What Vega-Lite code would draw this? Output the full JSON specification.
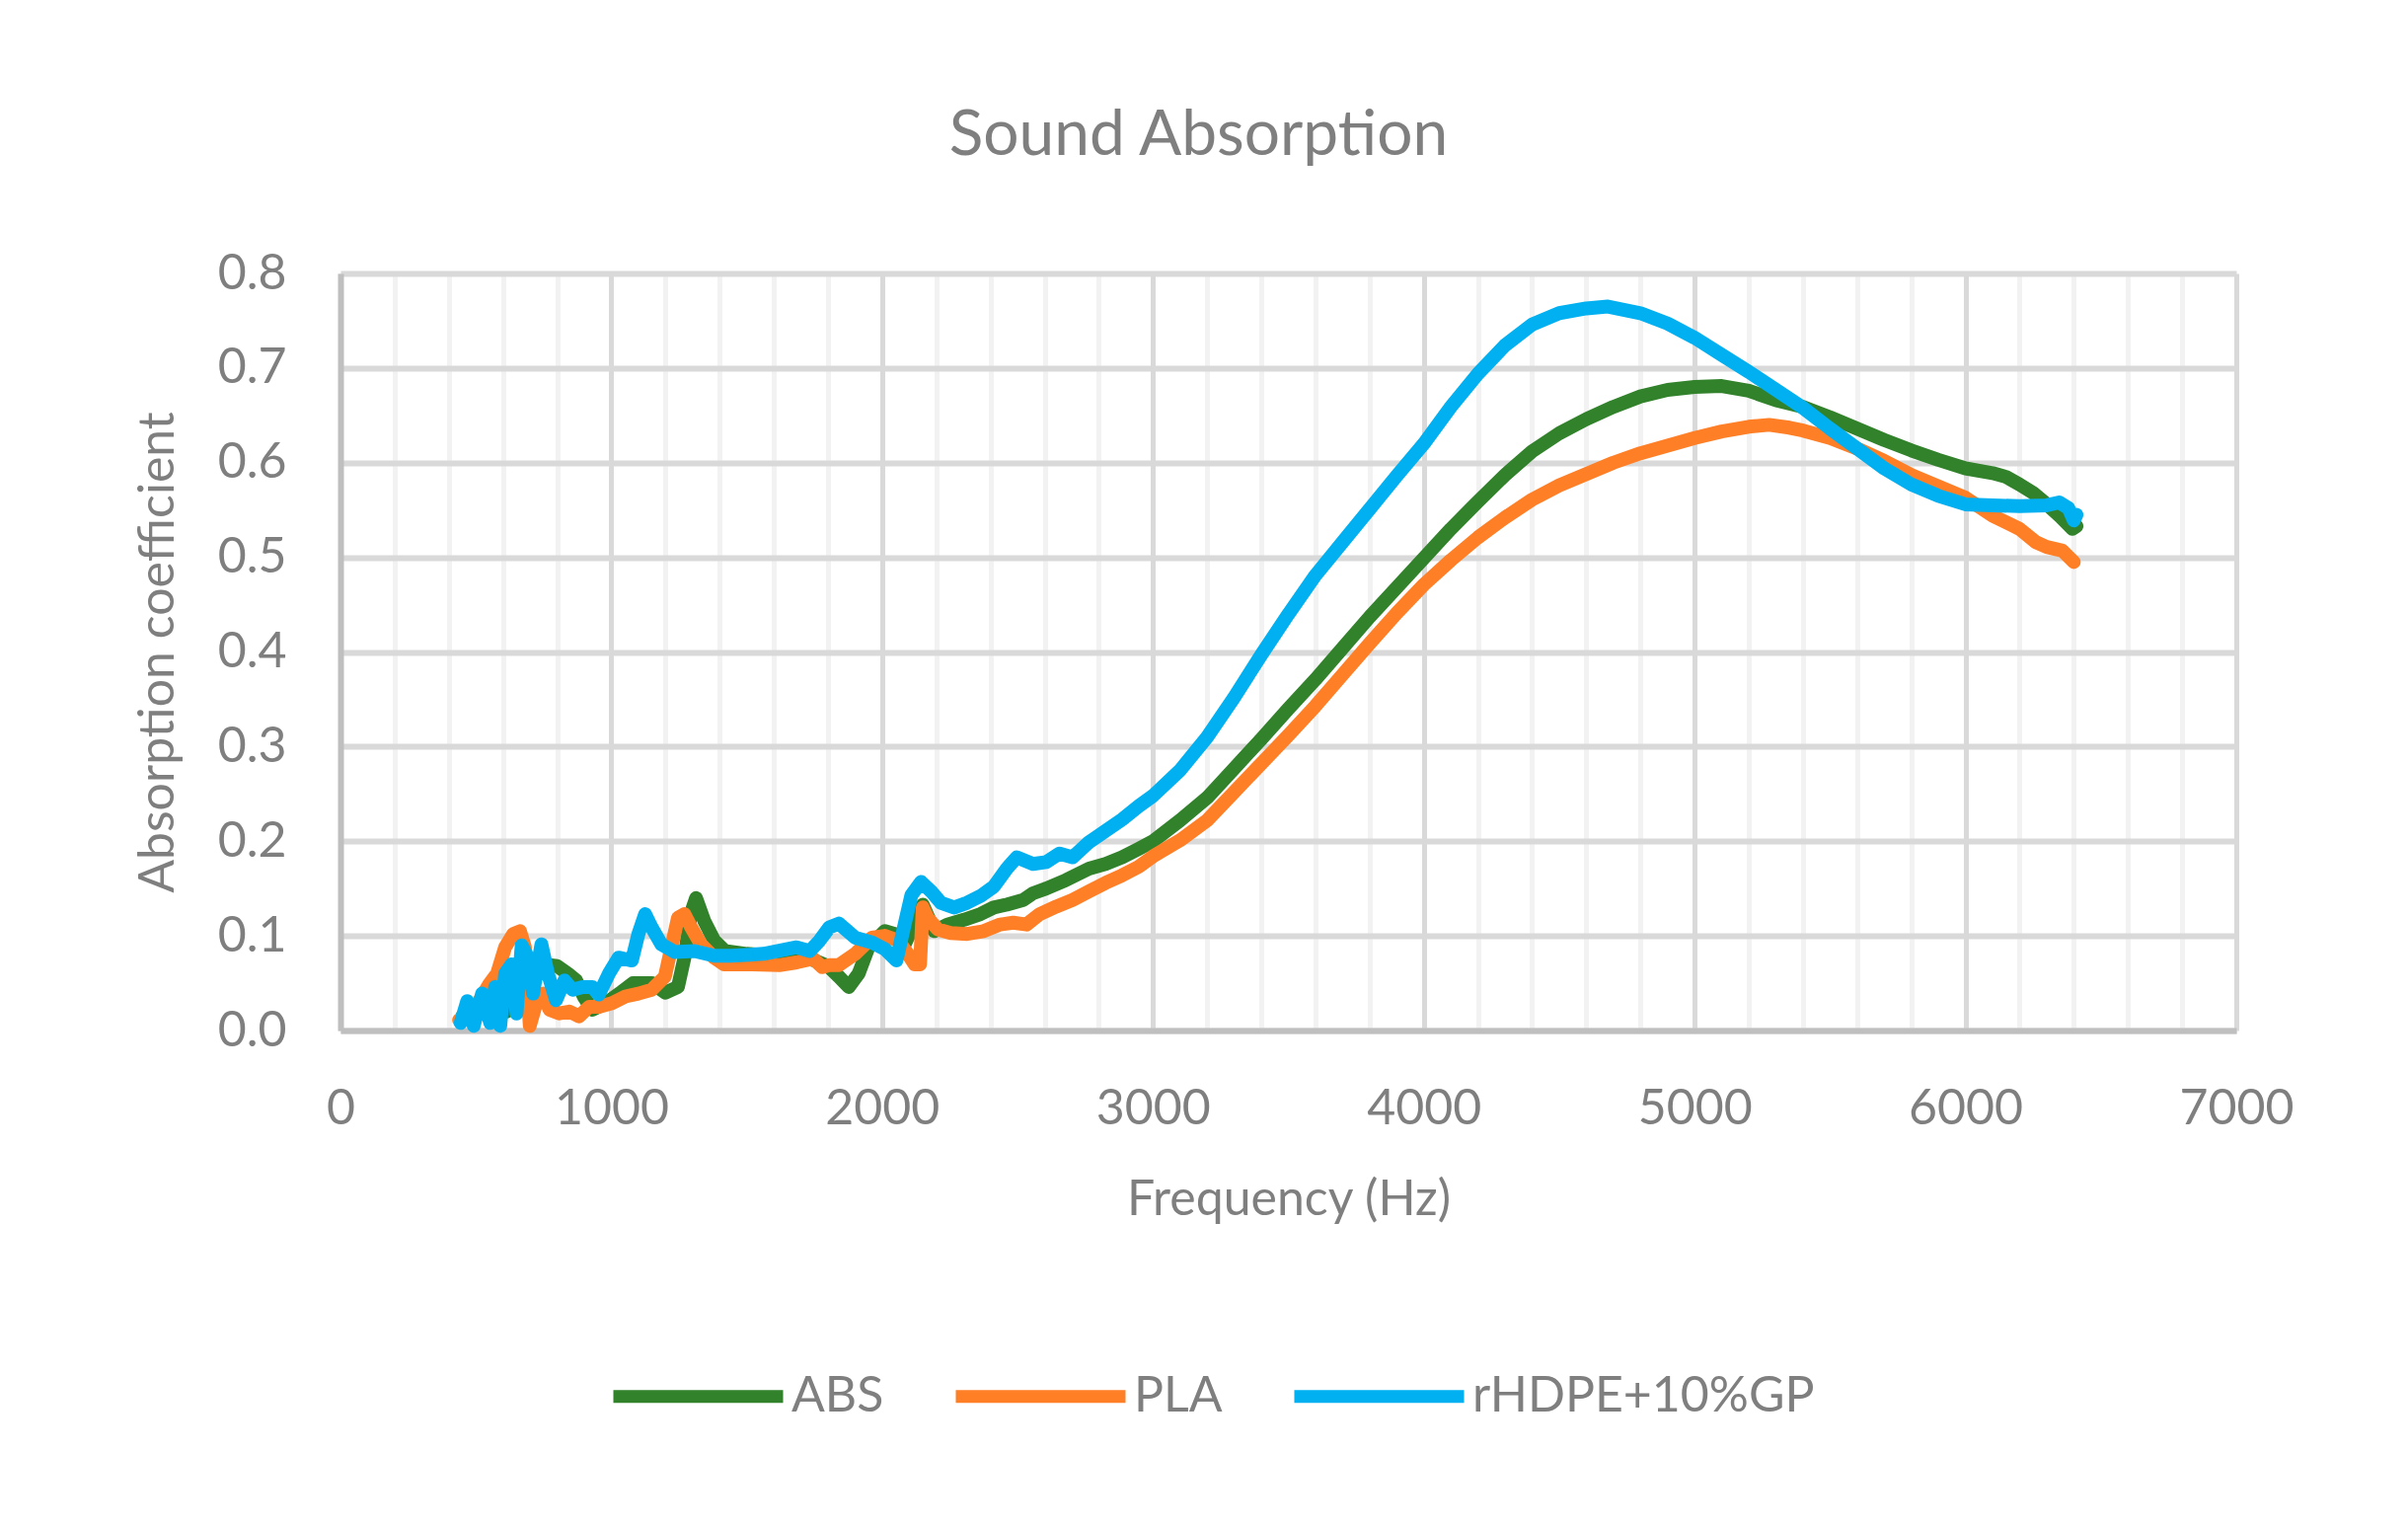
{
  "$schema": "https://vega.github.io/schema/vega-lite/v6.json",
  "width": 1921,
  "height": 767,
  "autosize": {"type": "none"},
  "padding": {"left": 345, "top": 277, "right": 174, "bottom": 504},
  "background": "white",
  "title": {
    "text": "Sound Absorption",
    "font": "Lato",
    "fontSize": 64,
    "fontWeight": "normal",
    "color": "#7F7F7F",
    "anchor": "middle",
    "baseline": "alphabetic",
    "offset": 31,
    "dx": -91
  },
  "config": {
    "view": {"stroke": null},
    "axis": {
      "labelFont": "Lato",
      "labelFontSize": 50,
      "labelColor": "#7F7F7F",
      "titleFont": "Lato",
      "titleFontSize": 50,
      "titleFontWeight": "normal",
      "titleColor": "#7F7F7F",
      "domainColor": "#BFBFBF",
      "domainWidth": 6,
      "ticks": false,
      "tickSize": 0
    },
    "legend": {
      "labelFont": "Lato",
      "labelFontSize": 50,
      "labelColor": "#7F7F7F",
      "labelLimit": 600
    }
  },
  "data": {
    "values": [
      {"series": "ABS", "f": 450, "a": 0.015},
      {"series": "ABS", "f": 480, "a": 0.02},
      {"series": "ABS", "f": 520, "a": 0.025},
      {"series": "ABS", "f": 560, "a": 0.03},
      {"series": "ABS", "f": 600, "a": 0.035},
      {"series": "ABS", "f": 614, "a": 0.02},
      {"series": "ABS", "f": 650, "a": 0.05},
      {"series": "ABS", "f": 700, "a": 0.065},
      {"series": "ABS", "f": 750, "a": 0.07},
      {"series": "ABS", "f": 800, "a": 0.068},
      {"series": "ABS", "f": 840, "a": 0.06},
      {"series": "ABS", "f": 870, "a": 0.053},
      {"series": "ABS", "f": 900, "a": 0.035},
      {"series": "ABS", "f": 930, "a": 0.022},
      {"series": "ABS", "f": 980, "a": 0.029},
      {"series": "ABS", "f": 1030, "a": 0.039},
      {"series": "ABS", "f": 1080, "a": 0.05},
      {"series": "ABS", "f": 1150, "a": 0.05},
      {"series": "ABS", "f": 1200, "a": 0.04},
      {"series": "ABS", "f": 1246, "a": 0.046},
      {"series": "ABS", "f": 1270, "a": 0.077},
      {"series": "ABS", "f": 1295, "a": 0.125},
      {"series": "ABS", "f": 1313, "a": 0.14},
      {"series": "ABS", "f": 1343, "a": 0.116},
      {"series": "ABS", "f": 1380, "a": 0.095},
      {"series": "ABS", "f": 1420, "a": 0.084},
      {"series": "ABS", "f": 1500, "a": 0.081},
      {"series": "ABS", "f": 1620, "a": 0.079},
      {"series": "ABS", "f": 1700, "a": 0.078},
      {"series": "ABS", "f": 1750, "a": 0.074},
      {"series": "ABS", "f": 1800, "a": 0.068},
      {"series": "ABS", "f": 1840, "a": 0.057},
      {"series": "ABS", "f": 1877, "a": 0.046},
      {"series": "ABS", "f": 1913, "a": 0.06},
      {"series": "ABS", "f": 1950, "a": 0.088},
      {"series": "ABS", "f": 2010, "a": 0.105},
      {"series": "ABS", "f": 2047, "a": 0.102},
      {"series": "ABS", "f": 2083, "a": 0.091},
      {"series": "ABS", "f": 2120, "a": 0.114},
      {"series": "ABS", "f": 2150, "a": 0.133},
      {"series": "ABS", "f": 2193, "a": 0.105},
      {"series": "ABS", "f": 2241, "a": 0.112},
      {"series": "ABS", "f": 2302, "a": 0.117},
      {"series": "ABS", "f": 2363, "a": 0.123},
      {"series": "ABS", "f": 2412, "a": 0.13},
      {"series": "ABS", "f": 2460, "a": 0.133},
      {"series": "ABS", "f": 2521, "a": 0.138},
      {"series": "ABS", "f": 2557, "a": 0.145},
      {"series": "ABS", "f": 2606, "a": 0.15},
      {"series": "ABS", "f": 2679, "a": 0.159},
      {"series": "ABS", "f": 2764, "a": 0.171},
      {"series": "ABS", "f": 2825, "a": 0.176},
      {"series": "ABS", "f": 2886, "a": 0.183},
      {"series": "ABS", "f": 2947, "a": 0.192},
      {"series": "ABS", "f": 3000, "a": 0.2},
      {"series": "ABS", "f": 3100, "a": 0.222},
      {"series": "ABS", "f": 3200, "a": 0.246},
      {"series": "ABS", "f": 3300, "a": 0.277},
      {"series": "ABS", "f": 3400, "a": 0.308},
      {"series": "ABS", "f": 3500, "a": 0.34},
      {"series": "ABS", "f": 3600, "a": 0.371},
      {"series": "ABS", "f": 3700, "a": 0.404},
      {"series": "ABS", "f": 3800, "a": 0.437},
      {"series": "ABS", "f": 3900, "a": 0.468},
      {"series": "ABS", "f": 4000, "a": 0.499},
      {"series": "ABS", "f": 4100, "a": 0.53},
      {"series": "ABS", "f": 4200, "a": 0.559},
      {"series": "ABS", "f": 4300, "a": 0.587},
      {"series": "ABS", "f": 4400, "a": 0.612},
      {"series": "ABS", "f": 4500, "a": 0.631},
      {"series": "ABS", "f": 4600, "a": 0.646},
      {"series": "ABS", "f": 4700, "a": 0.659},
      {"series": "ABS", "f": 4800, "a": 0.67},
      {"series": "ABS", "f": 4900, "a": 0.677},
      {"series": "ABS", "f": 5000, "a": 0.68},
      {"series": "ABS", "f": 5100, "a": 0.681},
      {"series": "ABS", "f": 5200, "a": 0.676},
      {"series": "ABS", "f": 5300, "a": 0.666},
      {"series": "ABS", "f": 5400, "a": 0.659},
      {"series": "ABS", "f": 5500, "a": 0.648},
      {"series": "ABS", "f": 5600, "a": 0.636},
      {"series": "ABS", "f": 5700, "a": 0.624},
      {"series": "ABS", "f": 5800, "a": 0.613},
      {"series": "ABS", "f": 5900, "a": 0.603},
      {"series": "ABS", "f": 6000, "a": 0.594},
      {"series": "ABS", "f": 6100, "a": 0.589},
      {"series": "ABS", "f": 6150, "a": 0.585},
      {"series": "ABS", "f": 6200, "a": 0.577},
      {"series": "ABS", "f": 6250, "a": 0.568},
      {"series": "ABS", "f": 6300, "a": 0.556},
      {"series": "ABS", "f": 6350, "a": 0.543},
      {"series": "ABS", "f": 6395, "a": 0.53},
      {"series": "ABS", "f": 6410, "a": 0.533},
      {"series": "PLA", "f": 438, "a": 0.011},
      {"series": "PLA", "f": 480, "a": 0.015},
      {"series": "PLA", "f": 510, "a": 0.03},
      {"series": "PLA", "f": 547, "a": 0.048},
      {"series": "PLA", "f": 578, "a": 0.06},
      {"series": "PLA", "f": 608, "a": 0.088},
      {"series": "PLA", "f": 638, "a": 0.102},
      {"series": "PLA", "f": 663, "a": 0.105},
      {"series": "PLA", "f": 681, "a": 0.088},
      {"series": "PLA", "f": 699, "a": 0.005},
      {"series": "PLA", "f": 723, "a": 0.029},
      {"series": "PLA", "f": 748, "a": 0.039},
      {"series": "PLA", "f": 772, "a": 0.022},
      {"series": "PLA", "f": 808, "a": 0.018},
      {"series": "PLA", "f": 845, "a": 0.02},
      {"series": "PLA", "f": 881, "a": 0.015},
      {"series": "PLA", "f": 918, "a": 0.025},
      {"series": "PLA", "f": 954, "a": 0.025},
      {"series": "PLA", "f": 1003, "a": 0.029},
      {"series": "PLA", "f": 1052, "a": 0.036},
      {"series": "PLA", "f": 1100, "a": 0.039},
      {"series": "PLA", "f": 1149, "a": 0.043},
      {"series": "PLA", "f": 1198, "a": 0.057},
      {"series": "PLA", "f": 1222, "a": 0.088},
      {"series": "PLA", "f": 1246, "a": 0.119},
      {"series": "PLA", "f": 1270, "a": 0.123},
      {"series": "PLA", "f": 1295, "a": 0.109},
      {"series": "PLA", "f": 1331, "a": 0.091},
      {"series": "PLA", "f": 1380, "a": 0.077},
      {"series": "PLA", "f": 1416, "a": 0.07},
      {"series": "PLA", "f": 1500, "a": 0.07},
      {"series": "PLA", "f": 1620, "a": 0.069},
      {"series": "PLA", "f": 1684, "a": 0.072},
      {"series": "PLA", "f": 1745, "a": 0.076},
      {"series": "PLA", "f": 1779, "a": 0.067},
      {"series": "PLA", "f": 1805, "a": 0.069},
      {"series": "PLA", "f": 1840, "a": 0.069},
      {"series": "PLA", "f": 1901, "a": 0.081},
      {"series": "PLA", "f": 1962, "a": 0.098},
      {"series": "PLA", "f": 2010, "a": 0.1},
      {"series": "PLA", "f": 2059, "a": 0.095},
      {"series": "PLA", "f": 2095, "a": 0.081},
      {"series": "PLA", "f": 2120, "a": 0.07},
      {"series": "PLA", "f": 2140, "a": 0.07},
      {"series": "PLA", "f": 2150, "a": 0.13},
      {"series": "PLA", "f": 2168, "a": 0.119},
      {"series": "PLA", "f": 2205, "a": 0.107},
      {"series": "PLA", "f": 2253, "a": 0.103},
      {"series": "PLA", "f": 2314, "a": 0.102},
      {"series": "PLA", "f": 2375, "a": 0.105},
      {"series": "PLA", "f": 2436, "a": 0.112},
      {"series": "PLA", "f": 2484, "a": 0.114},
      {"series": "PLA", "f": 2533, "a": 0.112},
      {"series": "PLA", "f": 2582, "a": 0.123},
      {"series": "PLA", "f": 2643, "a": 0.131},
      {"series": "PLA", "f": 2703, "a": 0.138},
      {"series": "PLA", "f": 2764, "a": 0.147},
      {"series": "PLA", "f": 2825, "a": 0.156},
      {"series": "PLA", "f": 2886, "a": 0.164},
      {"series": "PLA", "f": 2947, "a": 0.173},
      {"series": "PLA", "f": 3000, "a": 0.184},
      {"series": "PLA", "f": 3100, "a": 0.201},
      {"series": "PLA", "f": 3200, "a": 0.222},
      {"series": "PLA", "f": 3300, "a": 0.252},
      {"series": "PLA", "f": 3400, "a": 0.282},
      {"series": "PLA", "f": 3500, "a": 0.312},
      {"series": "PLA", "f": 3600, "a": 0.343},
      {"series": "PLA", "f": 3700, "a": 0.376},
      {"series": "PLA", "f": 3800, "a": 0.409},
      {"series": "PLA", "f": 3900, "a": 0.441},
      {"series": "PLA", "f": 4000, "a": 0.471},
      {"series": "PLA", "f": 4100, "a": 0.497},
      {"series": "PLA", "f": 4200, "a": 0.521},
      {"series": "PLA", "f": 4300, "a": 0.542},
      {"series": "PLA", "f": 4400, "a": 0.561},
      {"series": "PLA", "f": 4500, "a": 0.576},
      {"series": "PLA", "f": 4600, "a": 0.588},
      {"series": "PLA", "f": 4700, "a": 0.6},
      {"series": "PLA", "f": 4800, "a": 0.61},
      {"series": "PLA", "f": 4900, "a": 0.618},
      {"series": "PLA", "f": 5000, "a": 0.626},
      {"series": "PLA", "f": 5100, "a": 0.633},
      {"series": "PLA", "f": 5200, "a": 0.638},
      {"series": "PLA", "f": 5275, "a": 0.64},
      {"series": "PLA", "f": 5350, "a": 0.637},
      {"series": "PLA", "f": 5400, "a": 0.634},
      {"series": "PLA", "f": 5500, "a": 0.626},
      {"series": "PLA", "f": 5600, "a": 0.615},
      {"series": "PLA", "f": 5700, "a": 0.602},
      {"series": "PLA", "f": 5800, "a": 0.587},
      {"series": "PLA", "f": 5900, "a": 0.575},
      {"series": "PLA", "f": 6000, "a": 0.563},
      {"series": "PLA", "f": 6100, "a": 0.544},
      {"series": "PLA", "f": 6200, "a": 0.53},
      {"series": "PLA", "f": 6260, "a": 0.516},
      {"series": "PLA", "f": 6300, "a": 0.511},
      {"series": "PLA", "f": 6358, "a": 0.507},
      {"series": "PLA", "f": 6400, "a": 0.495},
      {"series": "rHDPE+10%GP", "f": 444, "a": 0.008},
      {"series": "rHDPE+10%GP", "f": 468, "a": 0.031},
      {"series": "rHDPE+10%GP", "f": 492, "a": 0.005},
      {"series": "rHDPE+10%GP", "f": 523, "a": 0.039},
      {"series": "rHDPE+10%GP", "f": 553, "a": 0.008},
      {"series": "rHDPE+10%GP", "f": 571, "a": 0.046},
      {"series": "rHDPE+10%GP", "f": 590, "a": 0.005},
      {"series": "rHDPE+10%GP", "f": 608, "a": 0.06},
      {"series": "rHDPE+10%GP", "f": 632, "a": 0.07},
      {"series": "rHDPE+10%GP", "f": 650, "a": 0.018},
      {"series": "rHDPE+10%GP", "f": 669, "a": 0.09},
      {"series": "rHDPE+10%GP", "f": 693, "a": 0.077},
      {"series": "rHDPE+10%GP", "f": 711, "a": 0.039},
      {"series": "rHDPE+10%GP", "f": 742, "a": 0.091},
      {"series": "rHDPE+10%GP", "f": 766, "a": 0.06},
      {"series": "rHDPE+10%GP", "f": 796, "a": 0.032},
      {"series": "rHDPE+10%GP", "f": 827, "a": 0.053},
      {"series": "rHDPE+10%GP", "f": 857, "a": 0.043},
      {"series": "rHDPE+10%GP", "f": 894, "a": 0.046},
      {"series": "rHDPE+10%GP", "f": 930, "a": 0.046},
      {"series": "rHDPE+10%GP", "f": 954, "a": 0.038},
      {"series": "rHDPE+10%GP", "f": 991, "a": 0.06},
      {"series": "rHDPE+10%GP", "f": 1027, "a": 0.077},
      {"series": "rHDPE+10%GP", "f": 1076, "a": 0.074},
      {"series": "rHDPE+10%GP", "f": 1100, "a": 0.102},
      {"series": "rHDPE+10%GP", "f": 1125, "a": 0.123},
      {"series": "rHDPE+10%GP", "f": 1149, "a": 0.109},
      {"series": "rHDPE+10%GP", "f": 1185, "a": 0.091},
      {"series": "rHDPE+10%GP", "f": 1234, "a": 0.083},
      {"series": "rHDPE+10%GP", "f": 1307, "a": 0.084},
      {"series": "rHDPE+10%GP", "f": 1380, "a": 0.079},
      {"series": "rHDPE+10%GP", "f": 1441, "a": 0.079},
      {"series": "rHDPE+10%GP", "f": 1562, "a": 0.081},
      {"series": "rHDPE+10%GP", "f": 1684, "a": 0.088},
      {"series": "rHDPE+10%GP", "f": 1733, "a": 0.084},
      {"series": "rHDPE+10%GP", "f": 1769, "a": 0.095},
      {"series": "rHDPE+10%GP", "f": 1805, "a": 0.109},
      {"series": "rHDPE+10%GP", "f": 1840, "a": 0.113},
      {"series": "rHDPE+10%GP", "f": 1901, "a": 0.098},
      {"series": "rHDPE+10%GP", "f": 1962, "a": 0.093},
      {"series": "rHDPE+10%GP", "f": 2010, "a": 0.086},
      {"series": "rHDPE+10%GP", "f": 2053, "a": 0.074},
      {"series": "rHDPE+10%GP", "f": 2083, "a": 0.112},
      {"series": "rHDPE+10%GP", "f": 2108, "a": 0.143},
      {"series": "rHDPE+10%GP", "f": 2144, "a": 0.157},
      {"series": "rHDPE+10%GP", "f": 2181, "a": 0.147},
      {"series": "rHDPE+10%GP", "f": 2217, "a": 0.135},
      {"series": "rHDPE+10%GP", "f": 2266, "a": 0.13},
      {"series": "rHDPE+10%GP", "f": 2314, "a": 0.135},
      {"series": "rHDPE+10%GP", "f": 2363, "a": 0.142},
      {"series": "rHDPE+10%GP", "f": 2412, "a": 0.152},
      {"series": "rHDPE+10%GP", "f": 2460, "a": 0.171},
      {"series": "rHDPE+10%GP", "f": 2497, "a": 0.183},
      {"series": "rHDPE+10%GP", "f": 2557, "a": 0.176},
      {"series": "rHDPE+10%GP", "f": 2606, "a": 0.178},
      {"series": "rHDPE+10%GP", "f": 2655, "a": 0.187},
      {"series": "rHDPE+10%GP", "f": 2703, "a": 0.183},
      {"series": "rHDPE+10%GP", "f": 2764, "a": 0.199},
      {"series": "rHDPE+10%GP", "f": 2825, "a": 0.211},
      {"series": "rHDPE+10%GP", "f": 2886, "a": 0.223},
      {"series": "rHDPE+10%GP", "f": 2947, "a": 0.237},
      {"series": "rHDPE+10%GP", "f": 3000, "a": 0.248},
      {"series": "rHDPE+10%GP", "f": 3100, "a": 0.275},
      {"series": "rHDPE+10%GP", "f": 3200, "a": 0.31},
      {"series": "rHDPE+10%GP", "f": 3300, "a": 0.352},
      {"series": "rHDPE+10%GP", "f": 3400, "a": 0.397},
      {"series": "rHDPE+10%GP", "f": 3500, "a": 0.44},
      {"series": "rHDPE+10%GP", "f": 3600, "a": 0.481},
      {"series": "rHDPE+10%GP", "f": 3700, "a": 0.516},
      {"series": "rHDPE+10%GP", "f": 3800, "a": 0.551},
      {"series": "rHDPE+10%GP", "f": 3900, "a": 0.586},
      {"series": "rHDPE+10%GP", "f": 4000, "a": 0.62},
      {"series": "rHDPE+10%GP", "f": 4100, "a": 0.659},
      {"series": "rHDPE+10%GP", "f": 4200, "a": 0.694},
      {"series": "rHDPE+10%GP", "f": 4300, "a": 0.724},
      {"series": "rHDPE+10%GP", "f": 4400, "a": 0.746},
      {"series": "rHDPE+10%GP", "f": 4500, "a": 0.758},
      {"series": "rHDPE+10%GP", "f": 4600, "a": 0.763},
      {"series": "rHDPE+10%GP", "f": 4680, "a": 0.765},
      {"series": "rHDPE+10%GP", "f": 4800, "a": 0.758},
      {"series": "rHDPE+10%GP", "f": 4900, "a": 0.747},
      {"series": "rHDPE+10%GP", "f": 5000, "a": 0.732},
      {"series": "rHDPE+10%GP", "f": 5100, "a": 0.714},
      {"series": "rHDPE+10%GP", "f": 5200, "a": 0.696},
      {"series": "rHDPE+10%GP", "f": 5300, "a": 0.677},
      {"series": "rHDPE+10%GP", "f": 5400, "a": 0.658},
      {"series": "rHDPE+10%GP", "f": 5500, "a": 0.636},
      {"series": "rHDPE+10%GP", "f": 5600, "a": 0.615},
      {"series": "rHDPE+10%GP", "f": 5700, "a": 0.594},
      {"series": "rHDPE+10%GP", "f": 5800, "a": 0.577},
      {"series": "rHDPE+10%GP", "f": 5900, "a": 0.565},
      {"series": "rHDPE+10%GP", "f": 6000, "a": 0.556},
      {"series": "rHDPE+10%GP", "f": 6100, "a": 0.555},
      {"series": "rHDPE+10%GP", "f": 6200, "a": 0.554},
      {"series": "rHDPE+10%GP", "f": 6300, "a": 0.555},
      {"series": "rHDPE+10%GP", "f": 6346, "a": 0.558},
      {"series": "rHDPE+10%GP", "f": 6380, "a": 0.552},
      {"series": "rHDPE+10%GP", "f": 6400, "a": 0.539},
      {"series": "rHDPE+10%GP", "f": 6410, "a": 0.545}
    ]
  },
  "mark": {"type": "line", "strokeWidth": 14, "strokeCap": "round", "strokeJoin": "round"},
  "encoding": {
    "x": {
      "field": "f",
      "type": "quantitative",
      "title": "Frequency (Hz)",
      "scale": {"domain": [0, 7000], "nice": false, "zero": false},
      "axis": {
        "values": [0, 200, 400, 600, 800, 1000, 1200, 1400, 1600, 1800, 2000, 2200, 2400, 2600, 2800, 3000, 3200, 3400, 3600, 3800, 4000, 4200, 4400, 4600, 4800, 5000, 5200, 5400, 5600, 5800, 6000, 6200, 6400, 6600, 6800, 7000],
        "format": "d",
        "labelExpr": "datum.value % 1000 === 0 ? datum.label : ''",
        "labelOverlap": false,
        "labelFlush": false,
        "labelPadding": 54,
        "titlePadding": 42,
        "grid": true,
        "gridWidth": 5,
        "gridColor": {"condition": {"test": "datum.value % 1000 === 0", "value": "#D9D9D9"}, "value": "#F2F2F2"}
      }
    },
    "y": {
      "field": "a",
      "type": "quantitative",
      "title": "Absorption coefficient",
      "scale": {"domain": [0, 0.8], "nice": false},
      "axis": {
        "values": [0, 0.1, 0.2, 0.3, 0.4, 0.5, 0.6, 0.7, 0.8],
        "format": ".1f",
        "labelPadding": 55,
        "titlePadding": 35,
        "grid": true,
        "gridWidth": 6,
        "gridColor": "#D9D9D9"
      }
    },
    "color": {
      "field": "series",
      "type": "nominal",
      "title": null,
      "scale": {"domain": ["ABS", "PLA", "rHDPE+10%GP"], "range": ["#31822B", "#FF7F27", "#00B0F0"]},
      "legend": {
        "orient": "none",
        "direction": "horizontal",
        "legendX": 270,
        "legendY": 1045,
        "symbolType": "stroke",
        "symbolSize": 29584,
        "symbolStrokeWidth": 13,
        "labelOffset": 2,
        "columnPadding": 46,
        "padding": 0
      }
    }
  }
}
